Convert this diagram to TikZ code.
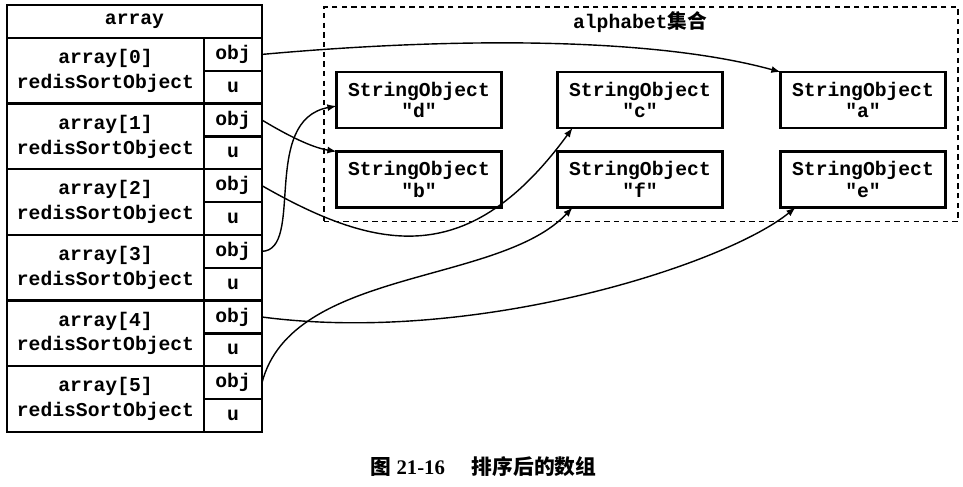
\documentclass[tikz,border=0pt]{standalone}
\usepackage{fontspec}
\setmainfont{Liberation Serif}
\setmonofont{Liberation Mono}
\newfontfamily\cjk{Noto Sans CJK SC}
\usetikzlibrary{arrows}

\tikzset{
  cell/.style={draw, line width=1.3pt, inner sep=0pt, outer sep=0pt, align=center,
    font=\ttfamily\bfseries\fontsize{11.2}{14.2}\selectfont},
  rowcell/.style={cell, minimum width=3.94cm, minimum height=1.313cm},
  ptrcell/.style={cell, minimum width=1.16cm, minimum height=0.656cm},
  strobj/.style={cell, minimum width=3.3cm, minimum height=1.12cm,
    font=\ttfamily\bfseries\fontsize{11.2}{12.4}\selectfont},
  link/.style={->, >=latex, line width=0.8pt},
}

\begin{document}
\begin{tikzpicture}[y=-1cm]
          \useasboundingbox (0,0) rectangle (19.26,9.72);

          \node[cell, minimum width=5.1cm, minimum height=0.66cm] (hdr) at (2.69,0.43) {array};
          \foreach \i in {0,...,5} {
            \pgfmathsetmacro\rowtop{0.76+1.313*\i}
            \node[rowcell] (r\i) at (2.11,\rowtop+0.656) {array[\i]\\redisSortObject};
            \node[ptrcell] (o\i) at (4.66,\rowtop+0.328) {obj};
            \node[ptrcell] (u\i) at (4.66,\rowtop+0.984) {u};
          }

          \node[draw, dash pattern=on 3pt off 2.5pt, line width=0.8pt, minimum width=12.68cm,
            minimum height=4.29cm, inner sep=0pt] (set) at (12.82,2.285) {};
          \node[font=\ttfamily\bfseries\fontsize{11.2}{12}\selectfont] (settitle) at (12.8,0.44)
            {alphabet{\cjk 集合}};

          \node[strobj] (d) at (8.38,2.0) {StringObject\\"d"};
          \node[strobj] (c) at (12.8,2.0) {StringObject\\"c"};
          \node[strobj] (a) at (17.26,2.0) {StringObject\\"a"};
          \node[strobj] (b) at (8.38,3.59) {StringObject\\"b"};
          \node[strobj] (f) at (12.8,3.59) {StringObject\\"f"};
          \node[strobj] (e) at (17.26,3.59) {StringObject\\"e"};

          \draw[link] (o0.east) .. controls +(3.76,-0.34) and +(-2.58,-0.71) .. (a.north west);
          \draw[link] (o1.east) .. controls +(0.5,0.3) and +(-0.5,-0.08) .. (b.north west);
          \draw[link] (o2.east) .. controls +(2.36,1.35) and +(-2.05,2.8) .. ([xshift=0.3cm]c.south west);
          \draw[link] (o3.east) .. controls +(0.86,-0.03) and +(-1.53,0.28) .. ([yshift=-0.12cm]d.west);
          \draw[link] (o4.east) .. controls +(4.26,0.56) and +(-1.41,1.15) .. ([xshift=0.3cm]e.south west);
          \draw[link] (o5.east) .. controls +(0.6,-2.3) and +(-1.46,1.56) .. ([xshift=0.3cm]f.south west);

          \node[font=\bfseries\fontsize{11.8}{13}\selectfont] (caption) at (9.67,9.34)
            {{\cjk 图} 21-16\hspace{1.3em}{\cjk 排序后的数组}};
        \end{tikzpicture}
\end{document}
